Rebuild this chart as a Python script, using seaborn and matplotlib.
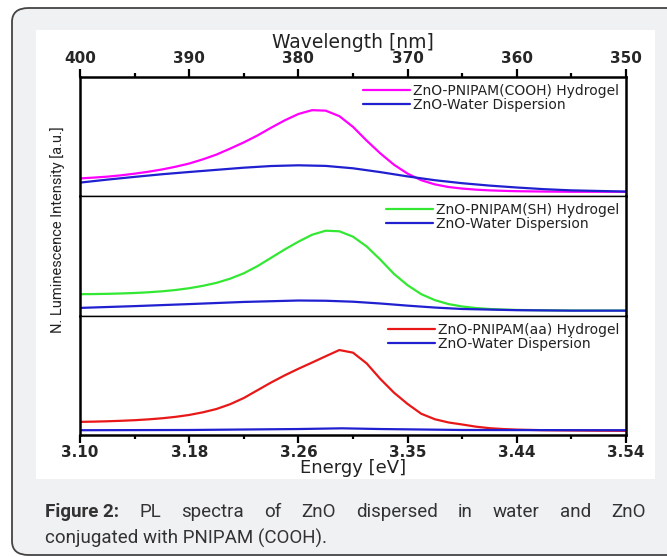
import matplotlib
matplotlib.use("Agg")
import matplotlib.pyplot as plt
import seaborn as sns
import pandas as pd
from matplotlib.patches import FancyBboxPatch, Rectangle

# ---------------- data ----------------
wl_top_ticks = [400, 390, 380, 370, 360, 350]
wl_minor_ticks = [395, 385, 375, 365, 355]
energy_labels = ["3.10", "3.18", "3.26", "3.35", "3.44", "3.54"]

wl_hydro = [400, 398.75, 397.5, 396.25, 395, 393.75, 392.5, 391.25, 390, 388.75,
            387.5, 386.25, 385, 383.75, 382.5, 381.25, 380, 378.75, 377.5, 376.25,
            375, 373.75, 372.5, 371.25, 370, 368.75, 367.5, 366.25, 365, 363.75,
            362.5, 361.25, 360, 357.5, 355, 352.5, 350]
cooh = [0.150, 0.157, 0.165, 0.176, 0.190, 0.206, 0.225, 0.248, 0.275, 0.310,
        0.350, 0.400, 0.452, 0.510, 0.575, 0.637, 0.690, 0.722, 0.718, 0.672,
        0.582, 0.467, 0.360, 0.265, 0.190, 0.135, 0.100, 0.078, 0.065, 0.056,
        0.050, 0.046, 0.043, 0.040, 0.038, 0.038, 0.038]
sh = [0.180, 0.181, 0.183, 0.186, 0.190, 0.196, 0.204, 0.215, 0.230, 0.250,
      0.275, 0.310, 0.355, 0.415, 0.485, 0.555, 0.620, 0.678, 0.712, 0.707,
      0.662, 0.580, 0.470, 0.350, 0.255, 0.180, 0.130, 0.097, 0.077, 0.064,
      0.056, 0.051, 0.048, 0.045, 0.043, 0.043, 0.043]
aa = [0.110, 0.112, 0.115, 0.119, 0.124, 0.131, 0.140, 0.152, 0.168, 0.190,
      0.218, 0.258, 0.310, 0.375, 0.440, 0.500, 0.555, 0.607, 0.660, 0.712,
      0.690, 0.600, 0.470, 0.355, 0.260, 0.178, 0.132, 0.105, 0.088, 0.070,
      0.057, 0.050, 0.045, 0.040, 0.038, 0.036, 0.035]

wl_water_top = [400, 397.5, 395, 392.5, 390, 387.5, 385, 382.5, 380, 377.5, 375,
                372.5, 370, 367.5, 365, 362.5, 360, 357.5, 355, 350]
water_top = [0.115, 0.14, 0.163, 0.185, 0.204, 0.222, 0.240, 0.254, 0.260, 0.255, 0.235,
             0.203, 0.167, 0.135, 0.110, 0.090, 0.074, 0.060, 0.050, 0.040]
wl_water_mid = [400, 395, 390, 385, 380, 377.5, 375, 372.5, 370, 367.5, 365, 360, 355, 350]
water_mid = [0.065, 0.080, 0.097, 0.115, 0.127, 0.125, 0.117, 0.102, 0.084, 0.068, 0.056,
             0.046, 0.042, 0.042]
wl_water_bot = [400, 390, 380, 376, 372.5, 365, 350]
water_bot = [0.040, 0.042, 0.050, 0.056, 0.050, 0.042, 0.040]

panels = [
    ("ZnO-PNIPAM(COOH) Hydrogel", cooh, "#ff00ff", wl_water_top, water_top),
    ("ZnO-PNIPAM(SH) Hydrogel", sh, "#33e833", wl_water_mid, water_mid),
    ("ZnO-PNIPAM(aa) Hydrogel", aa, "#e81818", wl_water_bot, water_bot),
]
water_label = "ZnO-Water Dispersion"
water_color = "#2020d0"

# ---------------- figure ----------------
sns.set_theme(style="white")
plt.rcParams['font.family'] = ['DejaVu Sans']

W, H = 667, 557
fig = plt.figure(figsize=(W / 100, H / 100), dpi=100, facecolor="white")


def fx(x):
    return x / W


def fy(y):
    return 1 - y / H


# grey rounded panel and white plot background
panel = FancyBboxPatch((fx(12), fy(555)), fx(700) - fx(12), fy(8) - fy(555),
                       boxstyle="round,pad=0,rounding_size=0.025",
                       transform=fig.transFigure, facecolor="#f0f1f3",
                       edgecolor="#444444", linewidth=1.3, zorder=-3)
fig.patches.append(panel)
fig.patches.append(Rectangle((fx(36), fy(479)), fx(655) - fx(36), fy(30) - fy(479),
                             transform=fig.transFigure, facecolor="white",
                             edgecolor="none", zorder=-2))

left, right, top, bottom = fx(80), fx(626), fy(77), fy(435)
gs = fig.add_gridspec(3, 1, left=left, right=right, top=top, bottom=bottom, hspace=0)
axes = [fig.add_subplot(gs[i]) for i in range(3)]

for i, (ax, (lab, vals, col, wlw, wv)) in enumerate(zip(axes, panels)):
    df_h = pd.DataFrame({"wl": wl_hydro, "I": vals})
    df_w = pd.DataFrame({"wl": wlw, "I": wv})
    sns.lineplot(data=df_h, x="wl", y="I", ax=ax, color=col, lw=1.6, label=lab)
    sns.lineplot(data=df_w, x="wl", y="I", ax=ax, color=water_color, lw=1.6, label=water_label)
    ax.set_xlim(400, 350)
    ax.set_ylim(0, 1)
    ax.set_facecolor("white")
    ax.set_xlabel("")
    ax.set_ylabel("")
    ax.set_yticks([])
    for s in ["left", "right"]:
        ax.spines[s].set_linewidth(1.8)
        ax.spines[s].set_color("black")
    ax.spines["top"].set_color("black")
    ax.spines["bottom"].set_color("black")
    ax.spines["top"].set_linewidth(1.8 if i == 0 else 1.0)
    ax.spines["bottom"].set_linewidth(1.8 if i == 2 else 1.0)
    ax.tick_params(axis="x", which="both", bottom=False, top=False,
                   labelbottom=False, labeltop=False)
    leg = ax.legend(loc="upper right", frameon=False, handlelength=3.4,
                    handletextpad=0.2, labelspacing=0.0, borderaxespad=0.1,
                    prop={"family": "DejaVu Sans", "size": 10})
    for t in leg.get_texts():
        t.set_color("#222222")

# top axis (wavelength)
ax0 = axes[0]
ax0.set_xticks(wl_top_ticks)
ax0.set_xticks(wl_minor_ticks, minor=True)
ax0.set_xticklabels([str(v) for v in wl_top_ticks])
ax0.tick_params(axis="x", which="both", top=True, labeltop=True, direction="out",
                color="black", pad=2)
ax0.tick_params(axis="x", which="major", length=6, width=1.6)
ax0.tick_params(axis="x", which="minor", length=3, width=1.6)
for t in ax0.get_xticklabels():
    t.set_fontweight("bold")
    t.set_fontsize(11)

# bottom axis (energy)
ax2 = axes[2]
ax2.set_xticks(wl_top_ticks)
ax2.set_xticks(wl_minor_ticks, minor=True)
ax2.set_xticklabels(energy_labels)
ax2.tick_params(axis="x", which="both", bottom=True, labelbottom=True, direction="out",
                color="black", pad=1.5)
ax2.tick_params(axis="x", which="major", length=6, width=1.6)
ax2.tick_params(axis="x", which="minor", length=3, width=1.6)
for t in ax2.get_xticklabels():
    t.set_fontweight("bold")
    t.set_fontsize(11)

# axis titles
fig.text(fx(353), fy(42), "Wavelength [nm]", ha="center", va="center",
         fontsize=13.5, color="#222222")
fig.text(fx(353), fy(468), "Energy [eV]", ha="center", va="center",
         fontsize=13, color="#222222")
fig.text(fx(58), fy(230), "N. Luminescence Intensity [a.u.]", rotation=90,
         ha="center", va="center", fontsize=10.5, color="#222222",
         family=["Roboto", "DejaVu Sans"])

# caption (justified first line)
cap_font = ["Roboto", "DejaVu Sans"]
cap_size = 13.5
cap_color = "#333333"
words1 = [("Figure 2:", "bold"), ("PL", "normal"), ("spectra", "normal"), ("of", "normal"),
          ("ZnO", "normal"), ("dispersed", "normal"), ("in", "normal"), ("water", "normal"),
          ("and", "normal"), ("ZnO", "normal")]
fig.canvas.draw()
renderer = fig.canvas.get_renderer()
texts = []
widths = []
for w, wt in words1:
    t = fig.text(0, fy(512), w, fontsize=cap_size, fontweight=wt, family=cap_font,
                 color=cap_color, ha="left", va="center")
    bb = t.get_window_extent(renderer)
    texts.append(t)
    widths.append(bb.width)
x0, x1 = 45, 646
gap = (x1 - x0 - sum(widths)) / (len(widths) - 1)
xx = x0
for t, wd in zip(texts, widths):
    t.set_x(fx(xx))
    xx += wd + gap
fig.text(fx(45), fy(538), "conjugated with PNIPAM (COOH).", fontsize=cap_size,
         family=cap_font, color=cap_color, ha="left", va="center")

fig.savefig("out.png", dpi=100, facecolor="white")
